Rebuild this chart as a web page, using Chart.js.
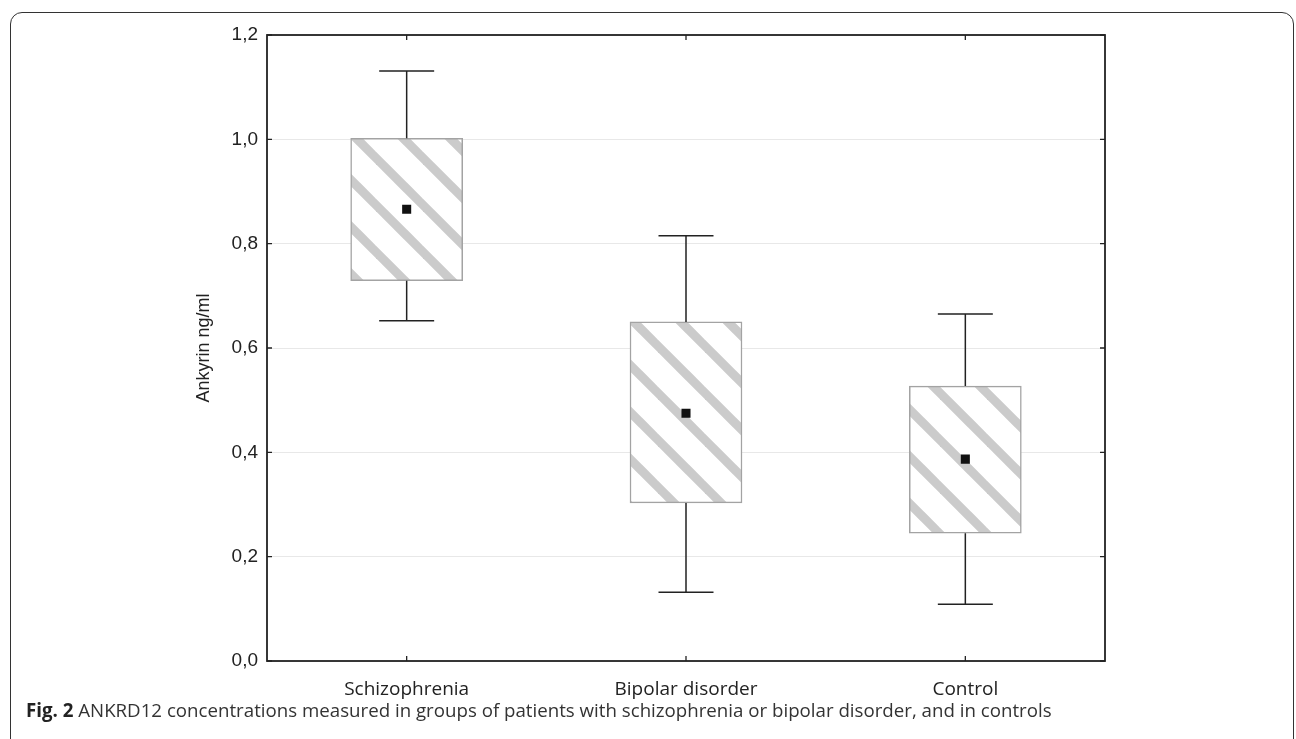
<!DOCTYPE html>
<html>
<head>
<meta charset="utf-8">
<script src="https://cdn.jsdelivr.net/npm/chart.js@4.4.1/dist/chart.umd.min.js"></script>
<style>
  html, body { margin: 0; padding: 0; background: #fff; }
  #wrap { position: relative; width: 1296px; height: 739px; overflow: hidden; }
  #frame {
    position: absolute; left: 10px; top: 12px; width: 1284px; height: 745px;
    border: 1.5px solid #333; border-radius: 12px; box-sizing: border-box;
  }
  #chart { position: absolute; left: 0; top: 0; }
  #caption {
    position: absolute; left: 26px; top: 697px;
    font-family: 'Open Sans', sans-serif; font-size: 18.7px; line-height: normal;
    color: #333; white-space: nowrap;
  }
  #caption b { color: #222; }
</style>
</head>
<body>
<div id="wrap">
  <div id="frame"></div>
  <canvas id="chart" width="1296" height="739"></canvas>
  <div id="caption"><b>Fig. 2</b> ANKRD12 concentrations measured in groups of patients with schizophrenia or bipolar disorder, and in controls</div>
</div>
<script>
/* ================== DATA ================== */
const groups = ['Schizophrenia', 'Bipolar disorder', 'Control'];
const whiskerHigh = [1.131, 0.815, 0.665];
const boxHigh = [1.002, 0.650, 0.527];
const means = [0.866, 0.475, 0.387];
const boxLow = [0.729, 0.303, 0.245];
const whiskerLow = [0.652, 0.132, 0.109];

const yTickValues = [0, 0.2, 0.4, 0.6, 0.8, 1.0, 1.2];
const yTickLabels = ['0,0', '0,2', '0,4', '0,6', '0,8', '1,0', '1,2'];

/* ================== HATCH PATTERN ================== */
function makeHatch() {
  const tile = document.createElement('canvas');
  tile.width = 47;
  tile.height = 47;
  const t = tile.getContext('2d');
  t.fillStyle = '#ffffff';
  t.fillRect(0, 0, 47, 47);
  t.strokeStyle = '#cbcbcb';
  t.lineWidth = 9;
  [30, -17, 77, -64].forEach(c => {
    t.beginPath();
    t.moveTo(c - 10, -10);
    t.lineTo(c + 57, 57);
    t.stroke();
  });
  return t.createPattern(tile, 'repeat');
}

/* ================== WHISKERS ================== */
const whiskerPlugin = {
  id: 'whiskers',
  afterDatasetsDraw(chart) {
    const { ctx, scales: { x, y } } = chart;
    ctx.save();
    ctx.strokeStyle = '#222';
    ctx.lineWidth = 1.5;
    groups.forEach((g, i) => {
      const cx = x.getPixelForValue(i);
      [[boxHigh[i], whiskerHigh[i]], [boxLow[i], whiskerLow[i]]].forEach(([from, to]) => {
        const y0 = y.getPixelForValue(from);
        const y1 = y.getPixelForValue(to);
        ctx.beginPath();
        ctx.moveTo(cx, y0);
        ctx.lineTo(cx, y1);
        ctx.moveTo(cx - 27.5, y1);
        ctx.lineTo(cx + 27.5, y1);
        ctx.stroke();
      });
    });
    ctx.restore();
  }
};

/* ================== PLOT FRAME + INWARD TICKS ================== */
const framePlugin = {
  id: 'frame',
  afterDraw(chart) {
    const { ctx, chartArea: a, scales: { x, y } } = chart;
    ctx.save();
    ctx.strokeStyle = '#222';
    ctx.lineWidth = 1.8;
    ctx.strokeRect(a.left, a.top, a.right - a.left, a.bottom - a.top);
    ctx.lineWidth = 1.3;
    ctx.beginPath();
    yTickValues.forEach(v => {
      const py = y.getPixelForValue(v);
      ctx.moveTo(a.left, py); ctx.lineTo(a.left + 5, py);
      ctx.moveTo(a.right, py); ctx.lineTo(a.right - 5, py);
    });
    groups.forEach((g, i) => {
      const px = x.getPixelForValue(i);
      ctx.moveTo(px, a.bottom); ctx.lineTo(px, a.bottom - 5);
      ctx.moveTo(px, a.top); ctx.lineTo(px, a.top + 5);
    });
    ctx.stroke();
    ctx.restore();
  }
};

/* ================== CHART ================== */
const ctx = document.getElementById('chart').getContext('2d');
new Chart(ctx, {
  type: 'bar',
  data: {
    labels: groups,
    datasets: [
      {
        type: 'line',
        label: 'Mean',
        data: means,
        showLine: false,
        pointStyle: 'rect',
        pointRadius: 6.4,
        pointBackgroundColor: '#111',
        pointBorderWidth: 0,
        order: 0
      },
      {
        label: 'Box',
        data: groups.map((g, i) => [boxLow[i], boxHigh[i]]),
        backgroundColor: makeHatch(),
        borderColor: '#a3a3a3',
        borderWidth: 1.5,
        borderSkipped: false,
        barThickness: 112,
        order: 1
      }
    ]
  },
  options: {
    responsive: false,
    animation: false,
    events: [],
    layout: { padding: { left: 184, right: 191, top: 35, bottom: 0 } },
    scales: {
      x: {
        grid: { display: false },
        border: { display: false },
        ticks: {
          color: '#222',
          padding: 9,
          font: { family: 'Open Sans', size: 19 }
        },
        afterFit(scale) { scale.height = 78; }
      },
      y: {
        min: 0,
        max: 1.2,
        afterBuildTicks(scale) { scale.ticks = yTickValues.map(v => ({ value: v })); },
        grid: { color: '#e8e8e8', drawTicks: false },
        border: { display: false },
        ticks: {
          color: '#222',
          padding: 9,
          font: { family: 'Liberation Sans', size: 19 }
        ,
          callback: (val, idx) => yTickLabels[idx]
        },
        title: {
          display: true,
          text: 'Ankyrin ng/ml',
          color: '#222',
          padding: { top: 9, bottom: 0 },
          font: { family: 'Liberation Sans', size: 18 }
        },
        afterFit(scale) { scale.width = 83; }
      }
    },
    plugins: {
      legend: { display: false },
      tooltip: { enabled: false }
    }
  },
  plugins: [whiskerPlugin, framePlugin]
});
</script>
</body>
</html>
